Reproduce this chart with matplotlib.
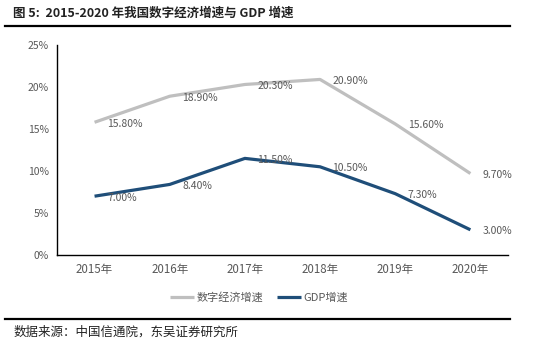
import matplotlib.pyplot as plt
from matplotlib.lines import Line2D
import numpy as np

plt.rcParams['font.family'] = ['Noto Sans CJK SC', 'DejaVu Sans']

# data
years = ['2015年', '2016年', '2017年', '2018年', '2019年', '2020年']
digital = [15.8, 18.9, 20.3, 20.9, 15.6, 9.7]
gdp = [7.0, 8.4, 11.5, 10.5, 7.3, 3.0]
y_ticks = [0, 5, 10, 15, 20, 25]

gray = '#BFBFBF'
navy = '#1F4E79'
txt = '#595959'

fig = plt.figure(figsize=(5.51, 3.43), dpi=100)
ax = fig.add_axes([0.1034, 0.2566, 0.8185, 0.6122])

x = np.arange(len(years))
ax.plot(x, digital, color=gray, lw=2.3, label='数字经济增速', solid_capstyle='butt')
ax.plot(x, gdp, color=navy, lw=2.3, label='GDP增速', solid_capstyle='butt')

for xi, v in zip(x, digital):
    ax.annotate(f'{v:.2f}%', (xi, v), xytext=(9, -1), textcoords='offset points',
                ha='left', va='center', fontsize=7.5, color=txt)
for xi, v in zip(x, gdp):
    ax.annotate(f'{v:.2f}%', (xi, v), xytext=(9, -1), textcoords='offset points',
                ha='left', va='center', fontsize=7.5, color=txt)

ax.set_xlim(-0.5, len(years) - 0.5)
ax.set_ylim(0, 25)
ax.set_yticks(y_ticks)
ax.set_yticklabels([f'{t}%' for t in y_ticks])
ax.set_xticks(x)
ax.set_xticklabels(years)
ax.tick_params(length=0, labelsize=7.5, colors=txt, pad=6)
ax.tick_params(axis='x', labelsize=8.3)
for s in ['top', 'right']:
    ax.spines[s].set_visible(False)
for s in ['left', 'bottom']:
    ax.spines[s].set_color('black')
    ax.spines[s].set_linewidth(1.0)

fig.legend(loc='center', bbox_to_anchor=(0.47, 0.134), ncol=2, frameon=False,
           fontsize=8, handlelength=2.2, handletextpad=0.2, columnspacing=1.2,
           labelcolor=txt)

fig.text(0.024, 0.962, '图 5:  2015-2020 年我国数字经济增速与 GDP 增速',
         fontsize=9, fontweight='bold', color='#222222', va='center')
fig.add_artist(Line2D([0.009, 0.926], [0.924, 0.924], color='black', lw=1.6))
fig.add_artist(Line2D([0.009, 0.926], [0.07, 0.07], color='black', lw=1.6))
fig.text(0.024, 0.032, '数据来源：中国信通院，东吴证券研究所',
         fontsize=9, color='#222222', va='center')

fig.savefig('out.png', dpi=100)
